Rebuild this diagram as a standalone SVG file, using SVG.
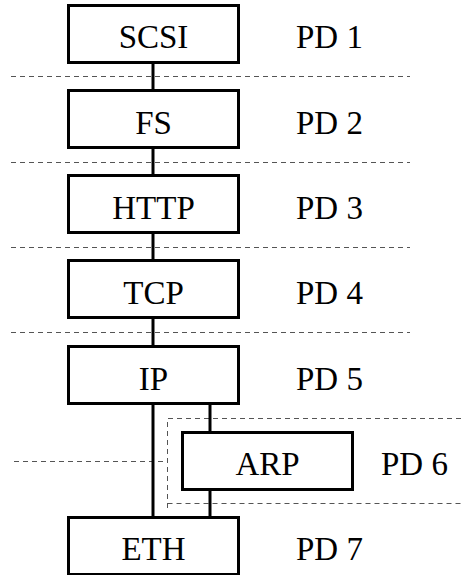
<svg xmlns="http://www.w3.org/2000/svg" width="461" height="575" viewBox="0 0 461 575">
<style>
.box{fill:#fff;stroke:#000;stroke-width:3}
text{font-family:'Liberation Serif','Times New Roman','DejaVu Serif',serif;font-size:33px;fill:#000}
.c{text-anchor:middle}
.d{stroke:#555;stroke-width:1;stroke-dasharray:5,4;fill:none}
.con{stroke:#000;stroke-width:3;fill:none}
</style>
<rect width="461" height="575" fill="#fff"/>
<g id="dividers">
<line class="d" x1="11" y1="76.5" x2="410" y2="76.5"/>
<line class="d" x1="11" y1="162.5" x2="410" y2="162.5"/>
<line class="d" x1="11" y1="247.5" x2="410" y2="247.5"/>
<line class="d" x1="11" y1="332.5" x2="410" y2="332.5"/>
<line class="d" x1="14" y1="461.5" x2="167" y2="461.5"/>
<path class="d" d="M461 418.5 H167.5 V510 M167.5 503.5 H461"/>
</g>
<g id="connectors">
<line class="con" x1="153" y1="62" x2="153" y2="90"/>
<line class="con" x1="153" y1="147" x2="153" y2="175"/>
<line class="con" x1="153" y1="232" x2="153" y2="260"/>
<line class="con" x1="153" y1="317" x2="153" y2="346"/>
<line class="con" x1="153" y1="403" x2="153" y2="518"/>
<line class="con" x1="210" y1="403" x2="210" y2="433"/>
<line class="con" x1="210" y1="489" x2="210" y2="518"/>
</g>
<g id="scsi"><rect class="box" x="68.5" y="5.5" width="170" height="57"/><text class="c" x="153.5" y="48" font-family="Liberation Serif, serif">SCSI</text><text x="296" y="48">PD 1</text></g>
<g id="fs"><rect class="box" x="68.5" y="90.5" width="170" height="57"/><text class="c" x="153.5" y="134">FS</text><text x="296" y="134">PD 2</text></g>
<g id="http"><rect class="box" x="68.5" y="175.5" width="170" height="57"/><text class="c" x="153.5" y="219">HTTP</text><text x="296" y="219">PD 3</text></g>
<g id="tcp"><rect class="box" x="68.5" y="260.5" width="170" height="57"/><text class="c" x="153.5" y="304">TCP</text><text x="296" y="304">PD 4</text></g>
<g id="ip"><rect class="box" x="68.5" y="346.5" width="170" height="57"/><text class="c" x="153.5" y="390">IP</text><text x="296" y="390">PD 5</text></g>
<g id="arp"><rect class="box" x="182.5" y="432.5" width="170" height="57"/><text class="c" x="267.5" y="475">ARP</text><text x="381" y="475">PD 6</text></g>
<g id="eth"><rect class="box" x="68.5" y="517.5" width="170" height="57"/><text class="c" x="153.5" y="560">ETH</text><text x="296" y="560">PD 7</text></g>
</svg>
